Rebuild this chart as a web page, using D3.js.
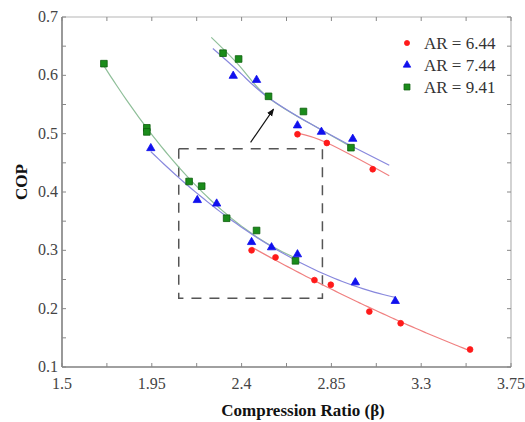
<!DOCTYPE html>
<html>
<head>
<meta charset="utf-8">
<script src="https://cdn.jsdelivr.net/npm/d3@7"></script>
<style>
    body { margin: 0; background: #fff; }
    svg { display: block; font-family: 'Liberation Serif', 'Times New Roman', serif; }
    .tick-label { font-size: 16px; fill: #444; }
    .axis-title { font-size: 17px; font-weight: bold; fill: #111; }
    .legend-text { font-size: 17px; fill: #333; }
</style>
</head>
<body>
<div id="chart"></div>
<script>
// Data //
const xTicks = [1.5, 1.95, 2.4, 2.85, 3.3, 3.75]
const yTicks = [0.1, 0.2, 0.3, 0.4, 0.5, 0.6, 0.7]
const seriesNames = ['AR = 6.44', 'AR = 7.44', 'AR = 9.41']

// main view
const redX = [2.45, 2.57, 2.765, 2.847, 3.04, 3.197, 3.545]
const redY = [0.300, 0.288, 0.249, 0.241, 0.195, 0.175, 0.130]
const blueX = [1.945, 2.178, 2.275, 2.45, 2.55, 2.68, 2.97, 3.17]
const blueY = [0.475, 0.386, 0.380, 0.314, 0.305, 0.293, 0.245, 0.213]
const greenX = [1.71, 1.925, 1.925, 2.137, 2.20, 2.325, 2.475, 2.67]
const greenY = [0.620, 0.510, 0.503, 0.418, 0.410, 0.355, 0.334, 0.282]

// fit line extents for the main view [from, to]
const fitRange = { red: [2.45, 3.545], blue: [1.945, 3.17], green: [1.71, 2.67] }

// zoomed view of the dashed box
const zoomRedX = [2.68, 2.827, 3.057]
const zoomRedY = [0.499, 0.484, 0.439]
const zoomBlueX = [2.358, 2.475, 2.68, 2.80, 2.957]
const zoomBlueY = [0.599, 0.592, 0.514, 0.503, 0.491]
const zoomGreenX = [2.307, 2.385, 2.535, 2.71, 2.948]
const zoomGreenY = [0.638, 0.628, 0.564, 0.538, 0.476]

// fit curves of the zoomed view
const zoomRedFitX = [2.68, 2.83, 3.14]
const zoomRedFitY = [0.501, 0.484, 0.428]
const zoomBlueFitX = [2.256, 2.40, 2.53, 2.75, 2.95, 3.14]
const zoomBlueFitY = [0.646, 0.602, 0.563, 0.516, 0.479, 0.446]
const zoomGreenFitX = [2.248, 2.40, 2.53, 2.75, 2.95]
const zoomGreenFitY = [0.665, 0.612, 0.563, 0.516, 0.477]

const boxX = [2.085, 2.805]
const boxY = [0.218, 0.474]
const arrowX = [2.445, 2.56]
const arrowY = [0.485, 0.542]

// Layout //
const width = 525
const height = 422
const margin = { top: 17, right: 14, bottom: 55, left: 62 }

const x = d3.scaleLinear().domain([1.5, 3.75]).range([margin.left, width - margin.right])
const y = d3.scaleLinear().domain([0.1, 0.7]).range([height - margin.bottom, margin.top])

const colors = { red: '#ff1a1a', blue: '#1010ee', green: '#1a8c1a' }
const lineColors = { red: '#f08080', blue: '#8888dd', green: '#8fbf99' }

const svg = d3.select('#chart').append('svg')
    .attr('width', width)
    .attr('height', height)

// Helpers //
const zip = (xs, ys) => xs.map((v, i) => [v, ys[i]])

// least squares quadratic through the points
const quadFit = (pts) => {
    const s = [0, 0, 0, 0, 0]
    const t = [0, 0, 0]
    pts.forEach(([a, b]) => {
        for (let k = 0; k < 5; k++) s[k] += Math.pow(a, k)
        for (let k = 0; k < 3; k++) t[k] += b * Math.pow(a, k)
    })
    const m = [
        [s[0], s[1], s[2], t[0]],
        [s[1], s[2], s[3], t[1]],
        [s[2], s[3], s[4], t[2]],
    ]
    for (let i = 0; i < 3; i++) {
        for (let j = i + 1; j < 3; j++) {
            const f = m[j][i] / m[i][i]
            for (let k = i; k < 4; k++) m[j][k] -= f * m[i][k]
        }
    }
    const c = [0, 0, 0]
    for (let i = 2; i >= 0; i--) {
        let v = m[i][3]
        for (let k = i + 1; k < 3; k++) v -= m[i][k] * c[k]
        c[i] = v / m[i][i]
    }
    return v => c[0] + c[1] * v + c[2] * v * v
}

// Drawers //
const drawFrame = () => {
    const x0 = x.range()[0], x1 = x.range()[1]
    const y0 = y.range()[0], y1 = y.range()[1]

    svg.append('line').attr('x1', x0).attr('x2', x1).attr('y1', y1).attr('y2', y1)
        .attr('stroke', '#b5b5b5').attr('stroke-width', 1.2)
    svg.append('line').attr('x1', x1).attr('x2', x1).attr('y1', y0).attr('y2', y1)
        .attr('stroke', '#b5b5b5').attr('stroke-width', 1.2)
    svg.append('line').attr('x1', x0).attr('x2', x1).attr('y1', y0).attr('y2', y0)
        .attr('stroke', '#808080').attr('stroke-width', 1.6)
    svg.append('line').attr('x1', x0).attr('x2', x0).attr('y1', y0).attr('y2', y1)
        .attr('stroke', '#808080').attr('stroke-width', 1.6)

    const xMinor = d3.range(1.5, 3.751, 0.225)
    const yMinor = d3.range(0.1, 0.701, 0.05)

    const tickG = svg.append('g').attr('stroke', '#888').attr('stroke-width', 1)
    xMinor.forEach(v => {
        tickG.append('line').attr('x1', x(v)).attr('x2', x(v)).attr('y1', y0).attr('y2', y0 - 4)
        tickG.append('line').attr('x1', x(v)).attr('x2', x(v)).attr('y1', y1).attr('y2', y1 + 4)
    })
    yMinor.forEach(v => {
        tickG.append('line').attr('x1', x0).attr('x2', x0 + 4).attr('y1', y(v)).attr('y2', y(v))
        tickG.append('line').attr('x1', x1).attr('x2', x1 - 4).attr('y1', y(v)).attr('y2', y(v))
    })

    svg.append('g').selectAll('text')
        .data(xTicks)
        .enter()
        .append('text')
            .attr('class', 'tick-label')
            .attr('x', d => x(d))
            .attr('y', y0 + 22)
            .attr('text-anchor', 'middle')
            .text(d => d)

    svg.append('g').selectAll('text')
        .data(yTicks)
        .enter()
        .append('text')
            .attr('class', 'tick-label')
            .attr('x', x0 - 4)
            .attr('y', d => y(d) + 5)
            .attr('text-anchor', 'end')
            .text(d => d)

    svg.append('text')
        .attr('class', 'axis-title')
        .attr('x', 303)
        .attr('y', 416)
        .attr('text-anchor', 'middle')
        .text('Compression Ratio (β)')

    svg.append('text')
        .attr('class', 'axis-title')
        .attr('transform', 'translate(27, 182) rotate(-90)')
        .attr('text-anchor', 'middle')
        .text('COP')
}

const drawBox = () => {
    svg.append('rect')
        .attr('x', x(boxX[0]))
        .attr('y', y(boxY[1]))
        .attr('width', x(boxX[1]) - x(boxX[0]))
        .attr('height', y(boxY[0]) - y(boxY[1]))
        .attr('fill', 'none')
        .attr('stroke', '#555')
        .attr('stroke-width', 1.5)
        .attr('stroke-dasharray', '10,8')

    svg.append('defs').append('marker')
        .attr('id', 'head')
        .attr('viewBox', '0 0 10 10')
        .attr('refX', 9).attr('refY', 5)
        .attr('markerWidth', 7).attr('markerHeight', 7)
        .attr('orient', 'auto')
        .append('path')
            .attr('d', 'M0,1L10,5L0,9Z')
            .attr('fill', '#111')

    svg.append('line')
        .attr('x1', x(arrowX[0])).attr('y1', y(arrowY[0]))
        .attr('x2', x(arrowX[1])).attr('y2', y(arrowY[1]))
        .attr('stroke', '#111')
        .attr('stroke-width', 1.1)
        .attr('marker-end', 'url(#head)')
}

const curve = d3.line().x(d => x(d[0])).y(d => y(d[1])).curve(d3.curveNatural)

const drawFit = (pts, range, color) => {
    const f = quadFit(pts)
    const xs = d3.range(range[0], range[1] + 1e-9, (range[1] - range[0]) / 60)
    drawCurve(xs.map(v => [v, f(v)]), color)
}

const drawCurve = (pts, color) => {
    svg.append('path')
        .datum(pts)
        .attr('d', curve)
        .attr('fill', 'none')
        .attr('stroke', color)
        .attr('stroke-width', 1.2)
}

const symbols = { red: d3.symbolCircle, blue: d3.symbolTriangle, green: d3.symbolSquare }
const symbolSize = { red: 26, blue: 30, green: 44 }

const drawPoints = (pts, key) => {
    svg.append('g').selectAll('path')
        .data(pts)
        .enter()
        .append('path')
            .attr('d', d3.symbol().type(symbols[key]).size(symbolSize[key]))
            .attr('transform', d => `translate(${x(d[0])},${y(d[1])})`)
            .attr('fill', colors[key])
            .attr('stroke', key === 'green' ? '#0d5e0d' : colors[key])
            .attr('stroke-width', 0.8)
}

const drawLegend = () => {
    const keys = ['red', 'blue', 'green']
    const g = svg.append('g')
    keys.forEach((k, i) => {
        const cy = 43 + i * 22
        g.append('path')
            .attr('d', d3.symbol().type(symbols[k]).size(symbolSize[k] * 0.8))
            .attr('transform', `translate(407,${cy})`)
            .attr('fill', colors[k])
            .attr('stroke', k === 'green' ? '#0d5e0d' : colors[k])
            .attr('stroke-width', 0.8)
        g.append('text')
            .attr('class', 'legend-text')
            .attr('x', 424)
            .attr('y', cy + 6)
            .text(seriesNames[i])
    })
}

// Initializer //
const mainSets = [
    { key: 'green', pts: zip(greenX, greenY), range: fitRange.green },
    { key: 'blue', pts: zip(blueX, blueY), range: fitRange.blue },
    { key: 'red', pts: zip(redX, redY), range: fitRange.red },
]
const zoomSets = [
    { key: 'green', pts: zip(zoomGreenX, zoomGreenY), fit: zip(zoomGreenFitX, zoomGreenFitY) },
    { key: 'blue', pts: zip(zoomBlueX, zoomBlueY), fit: zip(zoomBlueFitX, zoomBlueFitY) },
    { key: 'red', pts: zip(zoomRedX, zoomRedY), fit: zip(zoomRedFitX, zoomRedFitY) },
]

drawFrame()
drawBox()
mainSets.forEach(s => drawFit(s.pts, s.range, lineColors[s.key]))
zoomSets.forEach(s => drawCurve(s.fit, lineColors[s.key]))
mainSets.concat(zoomSets).forEach(s => drawPoints(s.pts, s.key))
drawLegend()
</script>
</body>
</html>
